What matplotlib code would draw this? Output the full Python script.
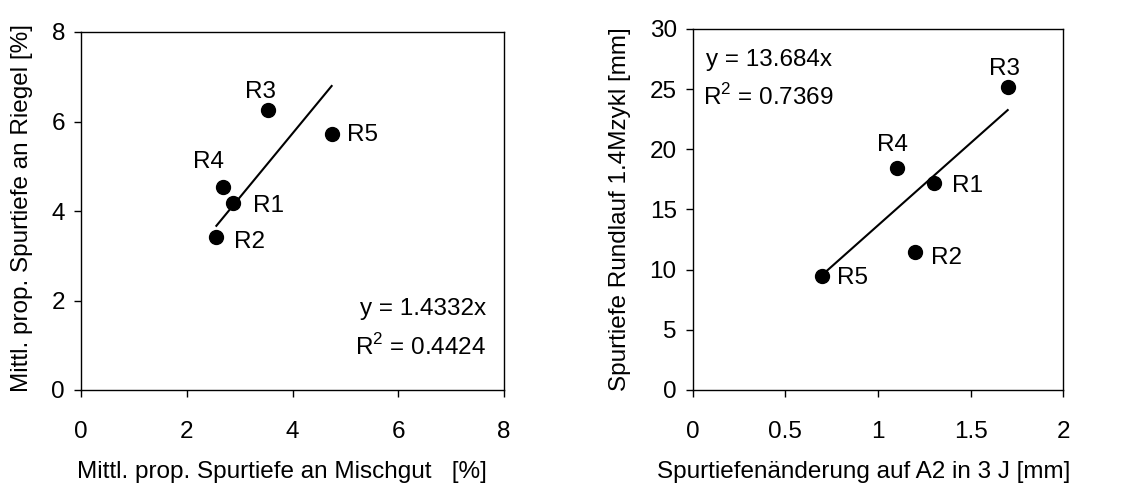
import matplotlib
matplotlib.use("Agg")
import matplotlib.pyplot as plt
import numpy as np

plt.rcParams['font.family'] = ['Liberation Sans', 'DejaVu Sans']
plt.rcParams['mathtext.fontset'] = 'custom'
plt.rcParams['mathtext.rm'] = 'Liberation Sans'

# Linke Grafik: Mischgut vs. Riegel
labels_l = ['R1', 'R2', 'R3', 'R4', 'R5']
x_l = [2.88, 2.56, 3.54, 2.68, 4.74]
y_l = [4.17, 3.41, 6.26, 4.53, 5.72]
slope_l = 1.4332
r2_l = 0.4424

# Rechte Grafik: Spurtiefenänderung vs. Rundlauf
labels_r = ['R1', 'R2', 'R3', 'R4', 'R5']
x_r = [1.3, 1.2, 1.7, 1.1, 0.7]
y_r = [17.2, 11.45, 25.2, 18.45, 9.5]
slope_r = 13.684
r2_r = 0.7369

FS = 17.5

# Versatz der Beschriftungen (Pixel), je Punkt
offs_l = {'R1': (20, -3, 'left'), 'R2': (18, -5, 'left'), 'R3': (-8, 18, 'center'),
          'R4': (-14, 25, 'center'), 'R5': (15, -1, 'left')}
offs_r = {'R1': (18, -3, 'left'), 'R2': (16, -6, 'left'), 'R3': (-3, 18, 'center'),
          'R4': (-4, 23, 'center'), 'R5': (15, -2, 'left')}

fig = plt.figure(figsize=(11.22, 4.87), dpi=100)
ax1 = fig.add_axes([81 / 1122, 97 / 487, 423 / 1122, 358 / 487])
ax2 = fig.add_axes([692.7 / 1122, 97 / 487, 370.6 / 1122, 361 / 487])


def draw(ax, xs, ys, labels, slope, offs):
    ax.scatter(xs, ys, s=100, color='black', zorder=3)
    xx = np.array([min(xs), max(xs)])
    ax.plot(xx, slope * xx, color='black', lw=1.5)
    for lab, x, y in zip(labels, xs, ys):
        dx, dy, ha = offs[lab]
        ax.annotate(lab, (x, y), xytext=(dx * 0.72, dy * 0.72), textcoords='offset points',
                    ha=ha, va='center', fontsize=FS)
    ax.tick_params(direction='out', length=5, width=1, labelsize=FS)
    ax.tick_params(axis='x', pad=17)
    ax.tick_params(axis='y', pad=6.5)
    for s in ax.spines.values():
        s.set_linewidth(1)


draw(ax1, x_l, y_l, labels_l, slope_l, offs_l)
ax1.set_xlim(0, 8)
ax1.set_ylim(0, 8)
ax1.set_xticks([0, 2, 4, 6, 8])
ax1.set_yticks([0, 2, 4, 6, 8])
ax1.text(0.958, 0.225, f'y = {slope_l}x', transform=ax1.transAxes, ha='right', va='center', fontsize=FS)
ax1.text(0.958, 0.12, f'R$^2$ = {r2_l}', transform=ax1.transAxes, ha='right', va='center', fontsize=FS)
ax1.set_xlabel('Mittl. prop. Spurtiefe an Mischgut   [%]', fontsize=FS)
ax1.set_ylabel('Mittl. prop. Spurtiefe an Riegel [%]', fontsize=FS)
ax1.xaxis.set_label_coords(0.474, -0.228)
ax1.xaxis.label.set_va('center')
ax1.yaxis.set_label_coords(-0.140, 0.508)
ax1.yaxis.label.set_va('center')

draw(ax2, x_r, y_r, labels_r, slope_r, offs_r)
ax2.set_xlim(0, 2)
ax2.set_ylim(0, 30)
ax2.set_xticks([0, 0.5, 1, 1.5, 2])
ax2.set_xticklabels(['0', '0.5', '1', '1.5', '2'])
ax2.set_yticks([0, 5, 10, 15, 20, 25, 30])
ax2.text(0.035, 0.915, f'y = {slope_r}x', transform=ax2.transAxes, ha='left', va='center', fontsize=FS)
ax2.text(0.029, 0.813, f'R$^2$ = {r2_r}', transform=ax2.transAxes, ha='left', va='center', fontsize=FS)
ax2.set_xlabel('Spurtiefenänderung auf A2 in 3 J [mm]', fontsize=FS)
ax2.set_ylabel('Spurtiefe Rundlauf 1.4Mzykl [mm]', fontsize=FS)
ax2.xaxis.set_label_coords(0.462, -0.226)
ax2.xaxis.label.set_va('center')
ax2.yaxis.set_label_coords(-0.196, 0.5)
ax2.yaxis.label.set_va('center')

fig.savefig('out.png', dpi=100)
